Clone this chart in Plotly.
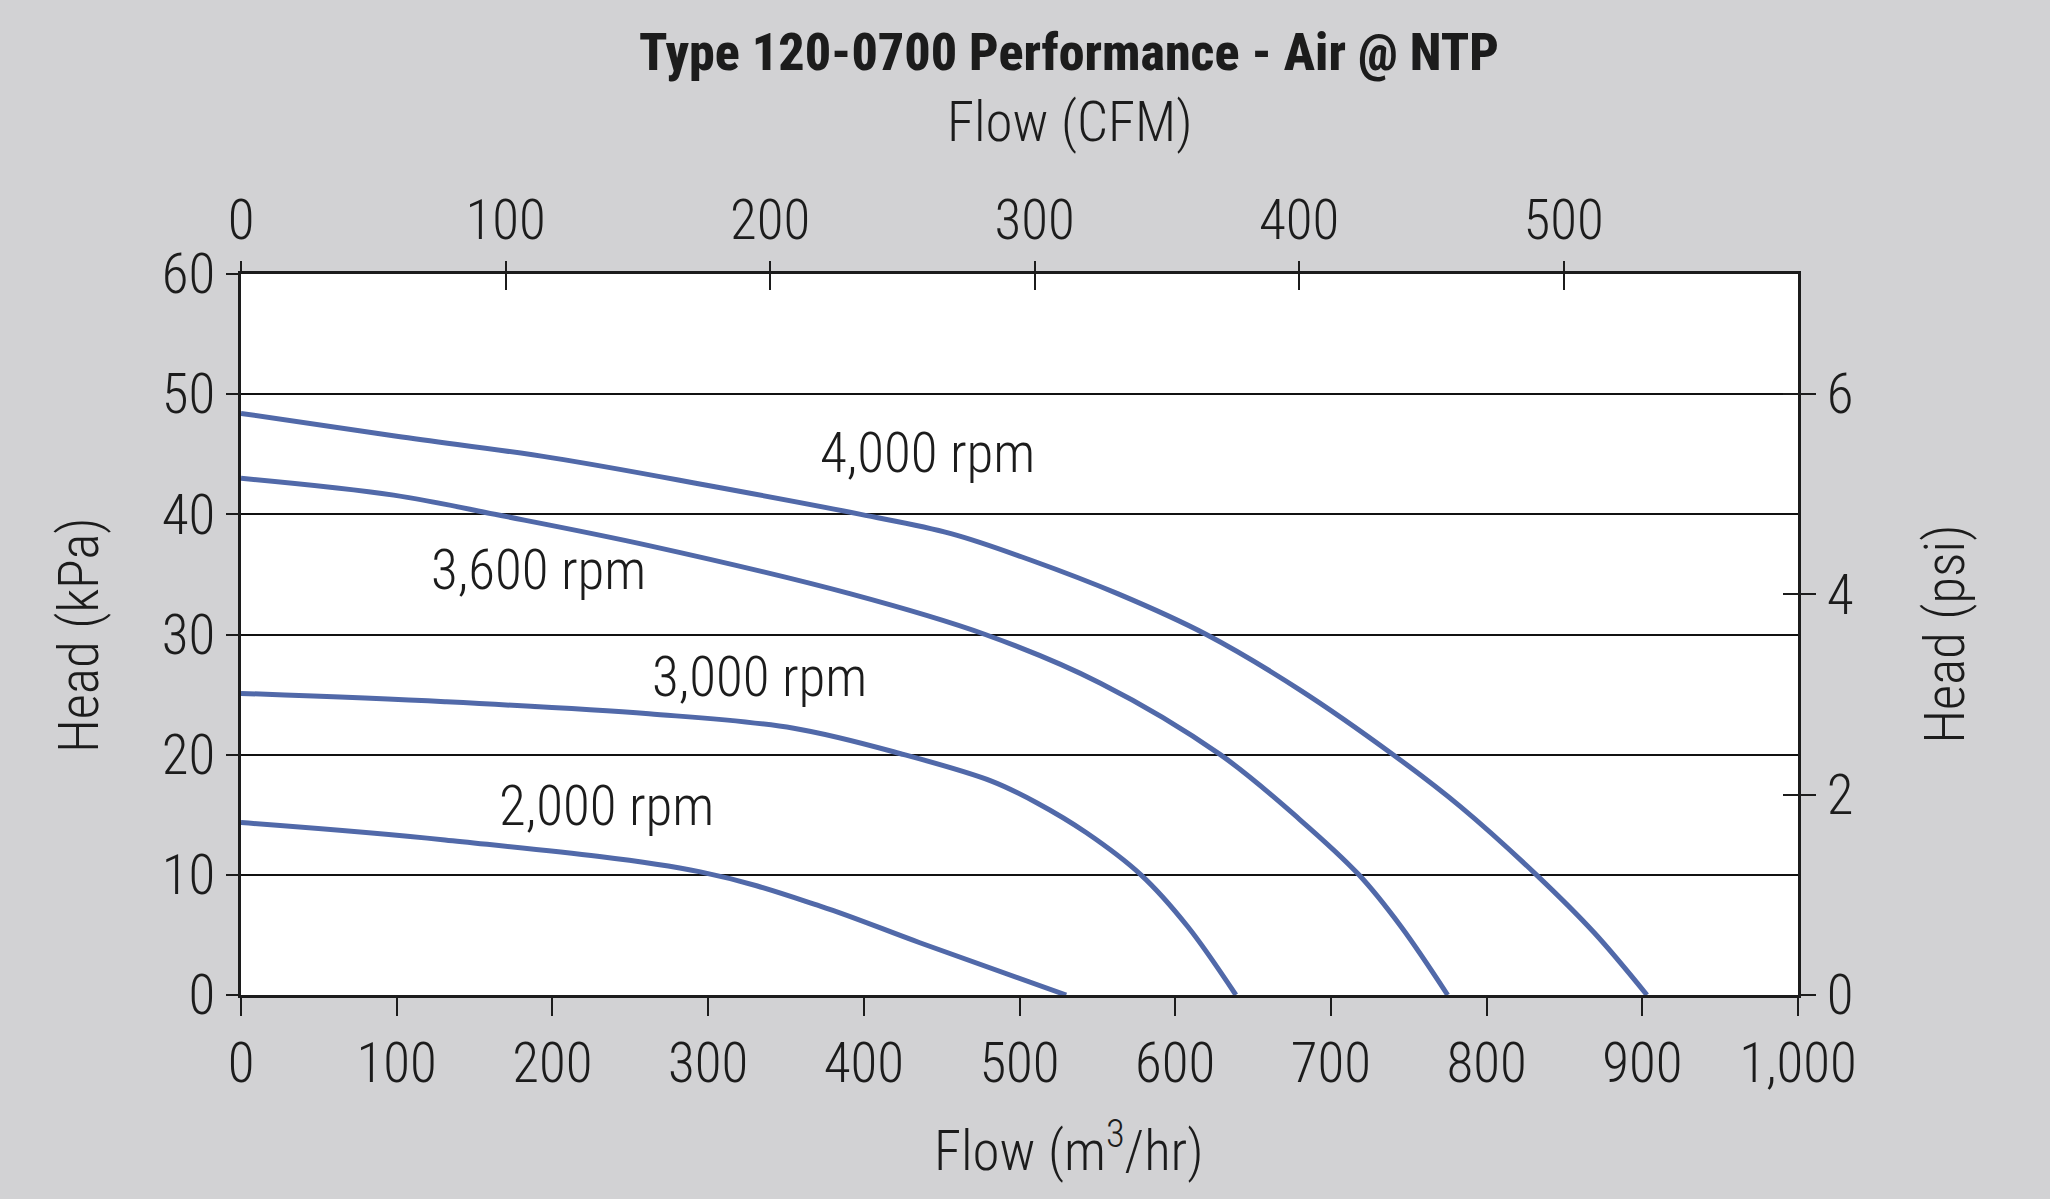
import plotly.graph_objects as go

# flow in m3/hr, head in kPa
flow_4000 = [0, 100, 200, 300, 398, 456, 507, 563, 620, 680, 740, 783, 832, 869, 903]
head_4000 = [48.4, 46.5, 44.7, 42.4, 40.0, 38.4, 36.2, 33.4, 30.0, 25.4, 20.0, 15.7, 10.0, 5.2, 0]

flow_3600 = [0, 98, 167, 262, 391, 478, 552, 629, 680, 718, 745, 775]
head_3600 = [43.0, 41.6, 39.9, 37.4, 33.4, 30.0, 25.95, 20.0, 14.6, 10.0, 5.7, 0]

flow_3000 = [0, 131, 262, 355, 426, 482, 511, 543, 578, 608, 639]
head_3000 = [25.1, 24.4, 23.4, 22.2, 20.0, 17.8, 16.0, 13.5, 10.0, 5.7, 0]

flow_2000 = [0, 131, 295, 372, 436, 530]
head_2000 = [14.35, 12.9, 10.25, 7.4, 4.35, 0]

curve_labels = ["4,000 rpm", "3,600 rpm", "3,000 rpm", "2,000 rpm"]
label_flow = [441, 191, 333, 235]
label_head = [45.1, 35.4, 26.5, 15.7]

flow_ticks = [0, 100, 200, 300, 400, 500, 600, 700, 800, 900, 1000]
cfm_ticks = [0, 100, 200, 300, 400, 500]
kpa_ticks = [0, 10, 20, 30, 40, 50, 60]
psi_ticks = [0, 2, 4, 6]

M3H_TO_CFM = 0.5886
FONT = "Roboto Condensed"
INK = "#1c1c1c"
BLUE = "#5169a9"
BG = "#d2d2d4"
txt = dict(family=FONT, size=55, color=INK, weight=300)

fig = go.Figure()
for fx, hy in [(flow_4000, head_4000), (flow_3600, head_3600),
               (flow_3000, head_3000), (flow_2000, head_2000)]:
    fig.add_trace(go.Scatter(x=fx, y=hy, mode="lines",
                             line=dict(color=BLUE, width=5, shape="spline", smoothing=1),
                             showlegend=False, hoverinfo="skip"))

# invisible helpers so the secondary axes get drawn
fig.add_trace(go.Scatter(x=cfm_ticks[:1], y=psi_ticks[:1], xaxis="x2", yaxis="y2",
                         mode="markers", marker=dict(opacity=0), showlegend=False, hoverinfo="skip"))
fig.add_trace(go.Scatter(x=cfm_ticks[:1], y=psi_ticks[:1], xaxis="x3", yaxis="y3",
                         mode="markers", marker=dict(opacity=0), showlegend=False, hoverinfo="skip"))

for t, fx, hy in zip(curve_labels, label_flow, label_head):
    fig.add_annotation(x=fx, y=hy, text=t, showarrow=False, font=txt)

fig.update_layout(
    width=2050, height=1199,
    paper_bgcolor=BG, plot_bgcolor="#ffffff",
    margin=dict(l=241, r=252, t=274, b=204),
    showlegend=False,
    xaxis=dict(range=[0, 1000], tickvals=flow_ticks, tickformat=",",
               ticks="outside", ticklen=18, tickwidth=2, tickcolor=INK,
               showline=True, linecolor=INK, linewidth=2.5,
               showgrid=False, zeroline=False, tickfont=txt),
    xaxis2=dict(range=[0, 1000 * M3H_TO_CFM], overlaying="x", side="top", anchor="y",
                tickvals=cfm_ticks, ticks="inside", ticklen=16, tickwidth=2, tickcolor=INK,
                ticklabelstandoff=10,
                showline=True, linecolor=INK, linewidth=2.5,
                showgrid=False, zeroline=False, tickfont=txt),
    xaxis3=dict(range=[0, 1000 * M3H_TO_CFM], overlaying="x", side="top", anchor="y",
                tickvals=cfm_ticks, ticks="outside", ticklen=12, tickwidth=2, tickcolor=INK,
                showticklabels=False, showline=False, showgrid=False, zeroline=False),
    yaxis=dict(range=[0, 60], tickvals=kpa_ticks,
               ticks="outside", ticklen=12, tickwidth=2, tickcolor=INK,
               showline=True, linecolor=INK, linewidth=2.5,
               showgrid=True, gridcolor="#111111", gridwidth=2,
               zeroline=False, tickfont=txt),
    yaxis2=dict(range=[0, 7.2], overlaying="y", side="right", anchor="x",
                tickvals=psi_ticks, ticks="outside", ticklen=15, tickwidth=2, tickcolor=INK,
                showline=True, linecolor=INK, linewidth=2.5,
                showgrid=False, zeroline=False, tickfont=txt),
    yaxis3=dict(range=[0, 7.2], overlaying="y", side="right", anchor="x",
                tickvals=psi_ticks[1:], ticks="inside", ticklen=15, tickwidth=2, tickcolor=INK,
                showticklabels=False, showline=False, showgrid=False, zeroline=False),
)

# titles placed as in the reference (centred a bit right of the plot centre)
fig.add_annotation(text="Type 120-0700 Performance - Air @ NTP",
                   xref="paper", yref="paper", x=0.532, y=1.3077,
                   xanchor="center", yanchor="middle", showarrow=False,
                   font=dict(family=FONT, size=52, color=INK, weight=800))
fig.add_annotation(text="Flow (CFM)", xref="paper", yref="paper", x=0.532, y=1.2107,
                   xanchor="center", yanchor="middle", showarrow=False, font=txt)
fig.add_annotation(text="Flow (m<sup>3</sup>/hr)", xref="paper", yref="paper",
                   x=0.532, y=-0.2114, xanchor="center", yanchor="middle",
                   showarrow=False, font=txt)
fig.add_annotation(text="Head (kPa)", xref="paper", yref="paper", x=-0.1044, y=0.5,
                   xanchor="center", yanchor="middle", textangle=-90,
                   showarrow=False, font=txt)
fig.add_annotation(text="Head (psi)", xref="paper", yref="paper", x=1.094, y=0.5,
                   xanchor="center", yanchor="middle", textangle=-90,
                   showarrow=False, font=txt)

# drop the page's default body margin so the figure fills the window
fig.write_html("out.html", config={"displayModeBar": False},
               post_script="document.body.style.margin='0';"
                           "document.body.style.background='" + BG + "';")
